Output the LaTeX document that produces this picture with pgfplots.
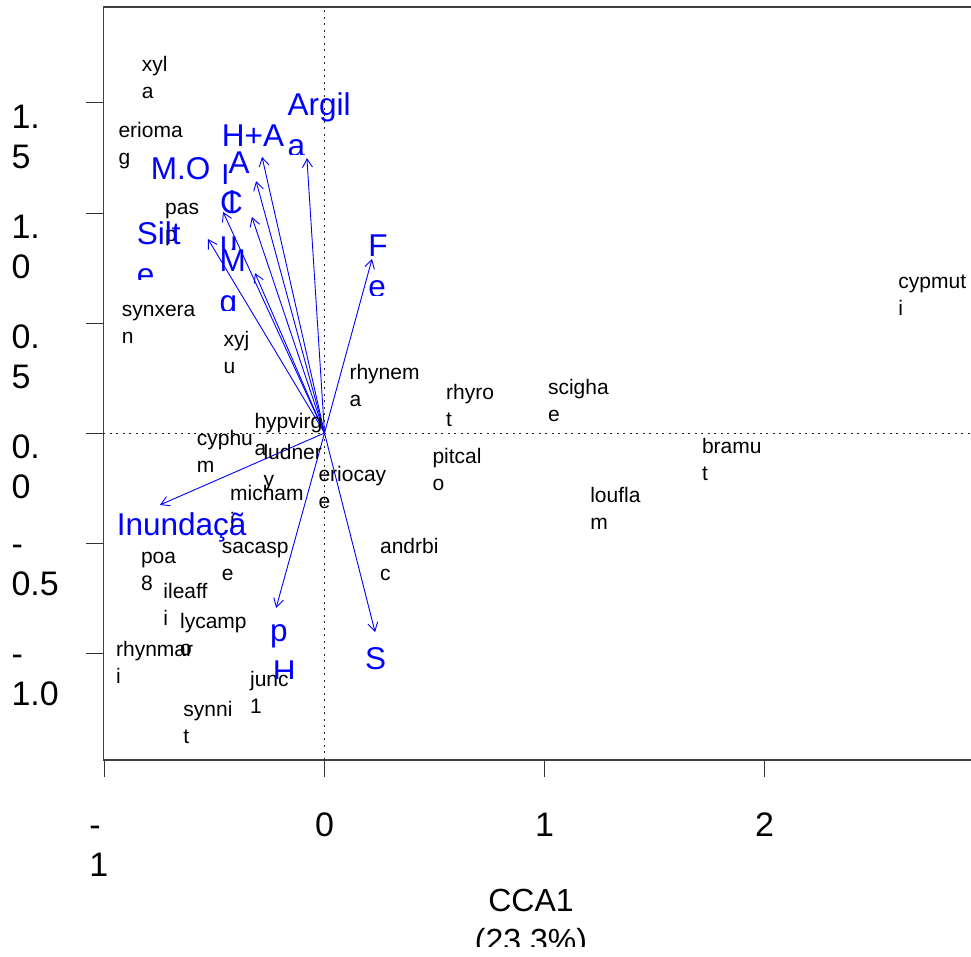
\documentclass[border=0pt]{standalone}
\usepackage{fontspec}
\setmainfont{Liberation Sans}
\usepackage{pgfplots}
\pgfplotsset{compat=1.18}
\usepackage{pgfplotstable}
\usetikzlibrary{arrows.meta}

\newcommand\spfont{\fontsize{21bp}{27bp}\selectfont}
\newcommand\envfont{\fontsize{31.5bp}{40.5bp}\selectfont}
\newcommand\tickfont{\fontsize{34bp}{40bp}\selectfont}
\newcommand\labfont{\fontsize{32bp}{40bp}\selectfont}
% text whose lower part is cut off #1 bp above its baseline
\newsavebox\clbox
\newcommand\cl[2]{\sbox\clbox{#2}\tikz[baseline=0pt]{\path[use as bounding box] (0pt,-\dp\clbox) rectangle (\wd\clbox,\ht\clbox);\clip (-20bp,#1bp) rectangle (300bp,80bp);\node[inner sep=0pt,outer sep=0pt,anchor=base west] at (0pt,0pt) {\usebox\clbox};}}

% species scores (label position: baseline-left of first line)
\pgfplotstableread{
x y a b
-0.831 1.642 xyl a
-0.937 1.344 erioma g
-0.725 0.991 pas p
-0.922 0.529 synxera n
-0.460 0.392 xyj u
0.113 0.241 rhynem a
0.552 0.153 rhyro t
1.015 0.177 scigha e
2.608 0.658 cypmut i
-0.319 0.021 hypvirg a
-0.581 -0.055 cyphu m
-0.278 -0.120 ludner y
-0.028 -0.221 eriocay e
0.490 -0.138 pitcal o
1.715 -0.092 bramu t
1.207 -0.317 loufla m
-0.430 -0.305 micham i
-0.467 -0.547 sacasp e
0.252 -0.547 andrbi c
-0.835 -0.592 poa 8
-0.733 -0.751 ileaff i
-0.657 -0.888 lycamp o
-0.948 -1.017 rhynmar i
-0.339 -1.153 junc 1
-0.642 -1.290 synni t
}\species

% environmental vectors (arrow tips)
\pgfplotstableread{
x y u v
0 0 -0.080 1.250
0 0 -0.284 1.255
0 0 -0.311 1.145
0 0 -0.461 1.005
0 0 -0.330 0.982
0 0 -0.530 0.882
0 0 -0.316 0.727
0 0 0.216 0.791
0 0 0.230 -0.905
0 0 -0.220 -0.795
0 0 -0.748 -0.327
}\envvec

% environmental labels, first line
\pgfplotstableread{
x y a
-0.169 1.441 Argil
-0.467 1.301 H+A
-0.437 1.180 A
-0.790 1.150 M.O
-0.475 0.999 C
-0.854 0.855 Silt
-0.478 0.733 M
0.199 0.801 F
-0.945 -0.464 Inundaçã
-0.248 -0.949 p
0.184 -1.077 S
}\envlabA

% environmental labels, second line (c: cut height above baseline, bp)
\pgfplotstableread{
x y a c
-0.169 1.257 a 1.5
-0.467 1.117 l 4.2
-0.437 0.996 l 1.8
-0.475 0.815 u 3.8
-0.854 0.671 e 5.5
-0.478 0.549 g 2.2
0.199 0.617 e 2.2
-0.236 -1.133 H 4
-0.945 -0.648 o 20.5
}\envlabB

\begin{document}
\begin{tikzpicture}
\begin{axis}[
  x=220bp, y=220bp,
  xmin=-1.005, xmax=3.0, ymin=-1.486, ymax=1.936,
  axis line style={black!75, line width=1.2bp},
  tick align=outside, tick pos=left,
  major tick length=17bp,
  major tick style={black!80, line width=1bp},
  xtick={-1,0,1,2},
  xticklabels={{\vphantom{0}\rlap{-}\hphantom{-1}\\\rlap{1}\hphantom{-1}},0,1,2},
  ytick={-1,-0.5,0,0.5,1,1.5},
  yticklabels={{-\\1.0},{-\\0.5},{0.\\0},{0.\\5},{1.\\0},{1.\\5}},
  xticklabel style={font=\tickfont, align=left, anchor=north, inner sep=0pt, yshift=-36bp},
  yticklabel style={font=\tickfont, align=left, anchor=north west, inner sep=0pt, xshift=-75bp, yshift=-2bp},
  xlabel={CCA1\\\cl{5}{(23.3\%)}},
  xlabel style={at={(axis description cs:0.4853,-0.1715)}, anchor=north, inner sep=0pt, align=center, font=\labfont},
]
% reference lines
\addplot[black!85, line width=0.8bp, dash pattern=on 2bp off 4.5bp] coordinates {(0,-1.486) (0,1.936)};
\addplot[black!85, line width=0.8bp, dash pattern=on 2bp off 4.5bp] coordinates {(-1.005,0) (3,0)};

% species labels
\addplot[draw=none, mark=none, nodes near coords, point meta=explicit symbolic,
  every node near coord/.append style={anchor=base west, inner sep=0pt, font=\spfont, text=black}]
  table[x=x, y=y, meta=a] {\species};
\addplot[draw=none, mark=none, nodes near coords, point meta=explicit symbolic,
  every node near coord/.append style={anchor=base west, inner sep=0pt, font=\spfont, text=black}]
  table[x=x, y expr=\thisrow{y}-0.1227, meta=b] {\species};

% environmental arrows
\addplot[blue, line width=0.9bp, -{Straight Barb[length=8.5bp,width=10bp]},
  quiver={u=\thisrow{u}, v=\thisrow{v}}] table[x=x, y=y] {\envvec};

% environmental labels
\addplot[draw=none, mark=none, nodes near coords, point meta=explicit symbolic,
  every node near coord/.append style={anchor=base west, inner sep=0pt, font=\envfont, text=blue}]
  table[x=x, y=y, meta=a] {\envlabA};
\addplot[draw=none, mark=none, point meta=explicit symbolic,
  visualization depends on={\thisrow{c} \as \clipv},
  nodes near coords={\cl{\clipv}{\pgfplotspointmeta}},
  every node near coord/.append style={anchor=base west, inner sep=0pt, font=\envfont, text=blue}]
  table[x=x, y=y, meta=a] {\envlabB};

\coordinate (TL) at (axis cs:-1.475,1.9682);
\coordinate (BR) at (axis cs:2.9386,-2.3773);
\end{axis}
\pgfresetboundingbox
\path[use as bounding box] (TL) rectangle (BR);
\end{tikzpicture}
\end{document}
